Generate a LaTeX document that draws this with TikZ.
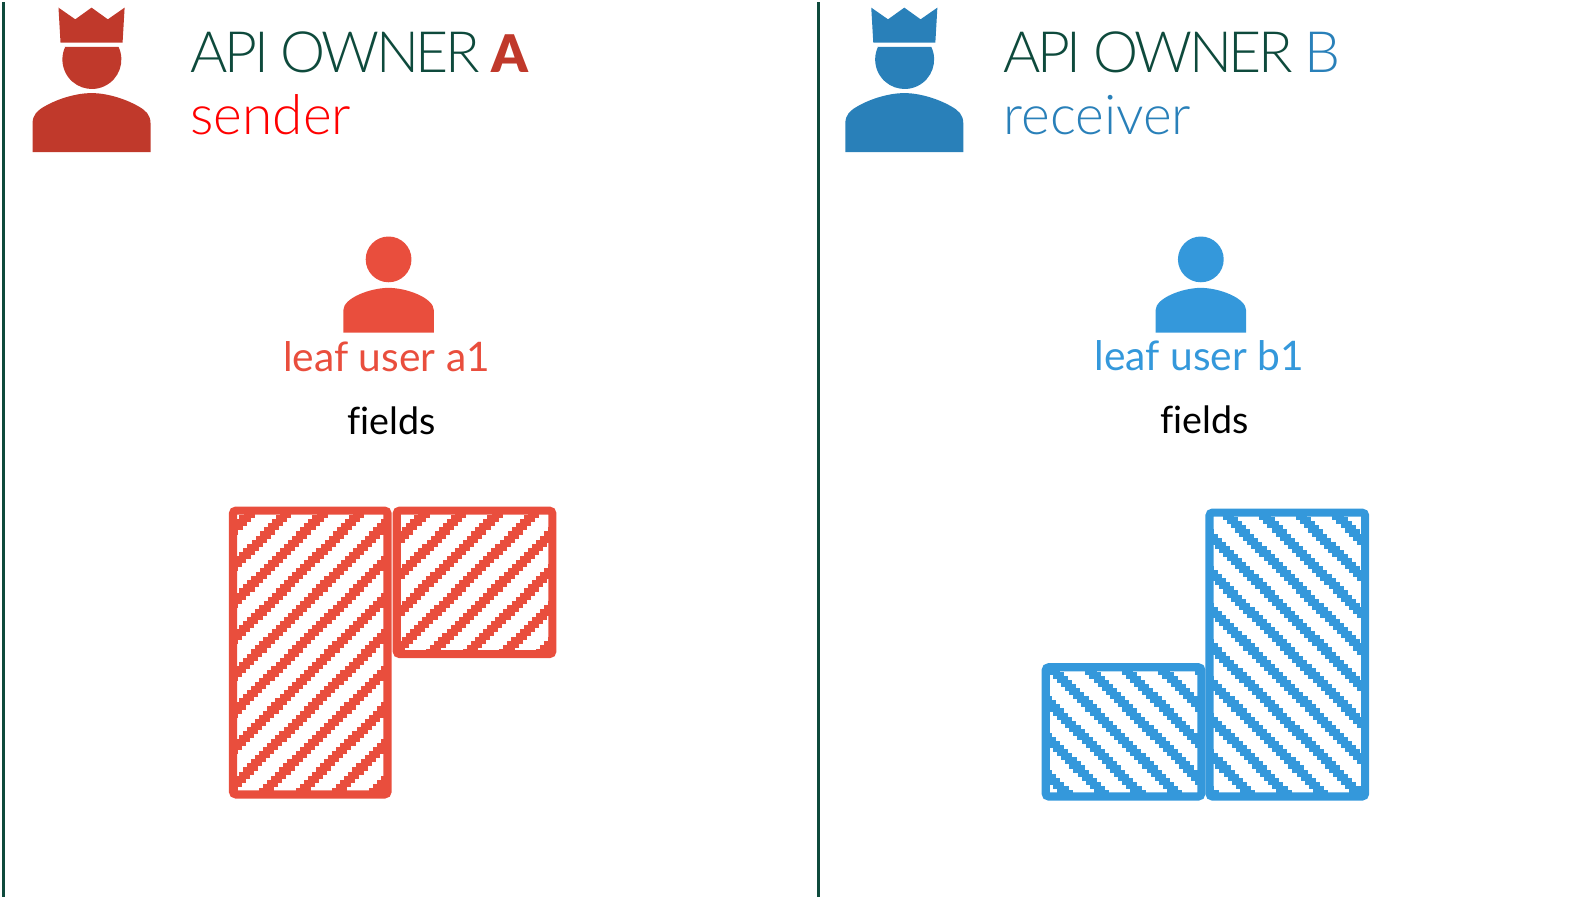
\documentclass[tikz,border=0pt]{standalone}
\usepackage{fontspec}
\setmainfont{Lato}
\newfontfamily\plainfont[Ligatures=NoCommon]{Lato}
\newfontfamily\lightfont{Lato Light}
\newfontfamily\titlefont[LetterSpace=-6,WordSpace=0.95]{Lato Light}
\newfontfamily\blackfont{Lato Black}
\definecolor{ownergreen}{HTML}{0E4A3C}
\definecolor{reddark}{HTML}{C0392B}
\definecolor{redleaf}{HTML}{E94E3D}
\definecolor{bluedark}{HTML}{2980B9}
\definecolor{blueleaf}{HTML}{3498DB}
\tikzset{
	title/.style={anchor=base west, inner sep=0, text=ownergreen, font=\titlefont\fontsize{28}{32}\selectfont},
	role/.style={anchor=base west, inner sep=0, font=\lightfont\fontsize{27}{30}\selectfont},
	leaf/.style={anchor=base, inner sep=0, font=\fontsize{20}{24}\selectfont},
	fieldtext/.style={anchor=base, inner sep=0, font=\plainfont\fontsize{18.5}{24}\selectfont},
	divider/.style={line width=1.5pt, color=ownergreen}
}
% crown, head and shoulders; (#2) is the middle of the head
\def\ownerfig[#1](#2){
	\begin{scope}[shift={(#2)}]
		\fill[#1] (-32.5,-51) -- (-16,-39.5) -- (0,-51) -- (16,-39.5) -- (32.5,-51) -- (30.5,-16.5) -- (-30.5,-16.5) -- cycle;
		\fill[#1] (-26.5,-12.5) -- (26.5,-12.5) arc (-25.5:205.5:29) -- cycle;
		\fill[#1] (-58,91) -- (-58,63) .. controls (-58,54) and (-53,50) .. (-46,46) .. controls (-32,38) and (-14,33) .. (0,33) .. controls (14,33) and (32,38) .. (46,46) .. controls (53,50) and (58,54) .. (58,63) -- (58,91) -- cycle;
	\end{scope}
}
\def\leaffig[#1](#2){
	\begin{scope}[shift={(#2)}]
		\fill[#1] (0,0) circle (22.5);
		\fill[#1] (-44.5,72) -- (-44.5,50) .. controls (-44.5,38) and (-18,28) .. (0,28) .. controls (18,28) and (44.5,38) .. (44.5,50) -- (44.5,72) -- cycle;
	\end{scope}
}
% box corners, then stairs start on the top edge, how many, and which way they run
\def\hatchbox[#1](#2,#3)(#4,#5)(#6,#7,#8){
	\begin{scope}
		\clip (#2,#3) rectangle (#4,#5);
		\foreach \k in {0,...,#7}{
			\pgfmathsetmacro{\xs}{#6+35.9*\k}
			\draw[#1, line width=3.5pt] (\xs,#3) \foreach \n in {1,...,75}{ -- ++(0,4) -- ++({#8*4},0) };
		}
	\end{scope}
	\draw[#1, line width=4pt, rounded corners=1.5pt] (#2,#3) rectangle (#4,#5);
}
\begin{document}
\begin{tikzpicture}[x=0.5pt, y=-0.5pt]
	\useasboundingbox (0,0) rectangle (1568,887);

	%%%%% LEFT %%%%%
	\draw[divider] (3,2) -- (3,882);
	\ownerfig[reddark](90,58.5);
	\node[title] (titlea) at (187,71) {API OWNER \textcolor{reddark}{\blackfont\fontsize{25.5}{30}\selectfont A}};
	\node[role, text=red] (rolea) at (187,132.5) {sender};
	\leaffig[redleaf](382,255);
	\node[leaf, text=redleaf] (leafa) at (380,365) {leaf user a1};
	\node[fieldtext] (fieldsa) at (385,427) {fields};
	\hatchbox[redleaf](229,502)(381,781)(211,13,-1);
	\hatchbox[redleaf](390,502)(543,643)(383,9,-1);

	%%%%% RIGHT %%%%%
	\draw[divider] (804.5,2) -- (804.5,882);
	\ownerfig[bluedark](889,58.5);
	\node[title] (titleb) at (986,71) {API OWNER \textcolor{bluedark}{B}};
	\node[role, text=bluedark] (roleb) at (986,132.5) {receiver};
	\leaffig[blueleaf](1180.5,255);
	\node[leaf, text=blueleaf] (leafb) at (1179,364) {leaf user b1};
	\node[fieldtext] (fieldsb) at (1184,426) {fields};
	\hatchbox[blueleaf](1189,504)(1342,783)(882.5,13,1);
	\hatchbox[blueleaf](1028,656)(1181,783)(891,8,1);
\end{tikzpicture}
\end{document}
